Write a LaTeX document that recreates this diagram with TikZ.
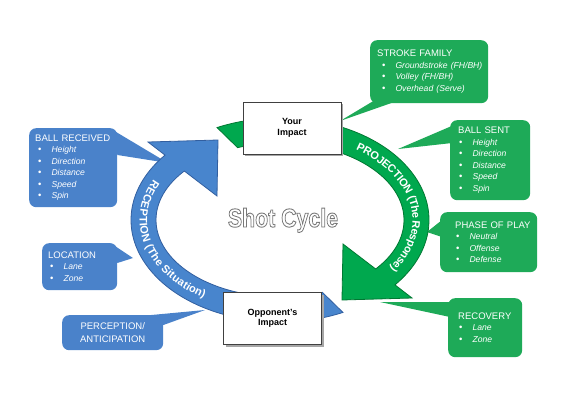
\documentclass[tikz,border=0pt]{standalone}
\usepackage{fontspec}
\setmainfont{Liberation Sans}
\usepackage{graphicx}
\usetikzlibrary{calc,decorations.text,shadows}
\definecolor{arcblue}{RGB}{72,133,205}
\definecolor{arcblueline}{RGB}{50,95,160}
\definecolor{arcgreen}{RGB}{0,168,78}
\definecolor{arcgreenline}{RGB}{0,120,50}
\definecolor{calblue}{RGB}{74,130,202}
\definecolor{calgreen}{RGB}{30,170,88}
\newcommand{\calitem}[2][1pt]{\hspace*{#1}\mbox{\textbullet\hspace{10pt}\itshape\fontsize{8.6}{11.5}\selectfont #2}}
% outlined letters: grey stroke, white fill
\newcommand{\outlined}[1]{\special{pdf:literal direct 2 Tr 0.9 w 0.47 G}#1\special{pdf:literal direct 0 Tr}}

\begin{document}
\begin{tikzpicture}[x=1pt,y=1pt,
    callout/.style={rounded corners=7pt,anchor=north west,text=white,align=left,
                    font=\fontsize{9.5}{11.5}\selectfont,inner ysep=4pt},
    bluecall/.style={callout,fill=calblue},
    greencall/.style={callout,fill=calgreen},
    impact/.style={rectangle,draw=black!75,fill=white,minimum width=98pt,minimum height=52pt,
                   align=center,font=\bfseries\fontsize{9}{10.5}\selectfont,
                   drop shadow={shadow xshift=2pt,shadow yshift=-2pt,fill=black!35,opacity=1}},
    bluearc/.style={fill=arcblue,draw=arcblueline,line width=0.8pt},
    greenarc/.style={fill=arcgreen,draw=arcgreenline,line width=0.8pt},
    arctext/.style={decorate,decoration={text along path,text align=center,
                    text color=white,raise=-3.9pt}},
    shottext/.style={font=\bfseries\fontsize{26}{26}\selectfont,anchor=base}
]
\useasboundingbox (0,0) rectangle (570,408);
\coordinate (C) at (280,188);

% callouts, left side
\node[bluecall,inner xsep=6pt,text width=76pt,minimum height=79pt] (received) at (29,280)
    {\mbox{BALL RECEIVED}\\ \calitem[3pt]{Height}\\ \calitem[3pt]{Direction}\\
     \calitem[3pt]{Distance}\\ \calitem[3pt]{Speed}\\ \calitem[3pt]{Spin}};
\node[bluecall,inner xsep=6pt,text width=63pt,minimum height=47pt] (location) at (42,165)
    {LOCATION\\ \calitem[2pt]{Lane}\\ \calitem[2pt]{Zone}};
\node[bluecall,inner xsep=6pt,text width=89pt,minimum height=35pt,align=center,
      font=\fontsize{9.5}{13}\selectfont] (perception) at (62,93) {PERCEPTION/\\ANTICIPATION};
\coordinate (receivedtip) at (168,245);
\coordinate (locationtip) at (133,150);
\coordinate (perceptiontip) at (205,98);
\fill[calblue] ([xshift=-8pt]received.north east) -- (receivedtip)
    -- ([yshift=-27pt]received.north east) -- cycle;
\fill[calblue] ([xshift=-7pt]location.north east) -- (locationtip)
    -- ([yshift=-20pt]location.north east) -- cycle;
\fill[calblue] ([xshift=-12pt]perception.north east) -- (perceptiontip)
    -- ([yshift=-10pt]perception.north east) -- cycle;

% callouts, right side
\node[greencall,inner xsep=7pt,text width=104pt,minimum height=63pt] (stroke) at (370,368)
    {STROKE FAMILY\\ \calitem[5pt]{Groundstroke (FH/BH)}\\ \calitem[5pt]{Volley (FH/BH)}\\
     \calitem[5pt]{Overhead (Serve)}};
\node[greencall,inner xsep=8pt,text width=64pt,minimum height=80pt] (sent) at (450,288)
    {BALL SENT\\ \calitem{Height}\\ \calitem{Direction}\\ \calitem{Distance}\\
     \calitem{Speed}\\ \calitem{Spin}};
\node[greencall,inner xsep=15pt,text width=67pt,minimum height=60pt] (phase) at (440,196)
    {\mbox{PHASE OF PLAY}\\ \calitem{Neutral}\\ \calitem{Offense}\\ \calitem{Defense}};
\node[greencall,inner xsep=10pt,text width=54pt,minimum height=59pt] (recovery) at (448,110)
    {\mbox{RECOVERY}\\ \calitem{Lane}\\ \calitem{Zone}};
\coordinate (stroketip) at (340,287);
\coordinate (senttip) at (398,259);
\coordinate (phasetip) at (427,176);
\coordinate (recoverytip) at (380,106);
\fill[calgreen] ([shift={(6pt,4pt)}]stroke.south west) -- (stroketip)
    -- ([shift={(26pt,2pt)}]stroke.south west) -- cycle;
\fill[calgreen] ([shift={(4pt,-5pt)}]sent.north west) -- (senttip)
    -- ([shift={(2pt,-23pt)}]sent.north west) -- cycle;
\fill[calgreen] ([shift={(2pt,-8pt)}]phase.north west) -- (phasetip)
    -- ([shift={(2pt,-25pt)}]phase.north west) -- cycle;
\fill[calgreen] ([shift={(4pt,-4pt)}]recovery.north west) -- (recoverytip)
    -- ([shift={(2pt,-19pt)}]recovery.north west) -- cycle;

% the two curved arrows
\begin{scope}[shift={(C)}]
  \filldraw[bluearc] (295:149 and 102) arc[start angle=295,end angle=140.5,x radius=149,y radius=102]
    -- (-132,78) -- (-62,80) -- (-63,24)
    -- (140.5:124 and 77) arc[start angle=140.5,end angle=290,x radius=124,y radius=77] -- cycle;
\end{scope}
\begin{scope}[shift={(C)},rotate=180]
  \filldraw[greenarc] (295:149 and 102) arc[start angle=295,end angle=140.5,x radius=149,y radius=102]
    -- (-132,78) -- (-62,80) -- (-63,24)
    -- (140.5:124 and 77) arc[start angle=140.5,end angle=290,x radius=124,y radius=77] -- cycle;
\end{scope}
\begin{scope}[shift={(C)}]
  \path[arctext,decoration={text={|\bfseries\fontsize{11}{11}\selectfont|RECEPTION (The Situation)}}]
    (148:136.5 and 89.5) arc[start angle=148,end angle=242,x radius=136.5,y radius=89.5];
  \path[arctext,decoration={text={|\bfseries\fontsize{11}{11}\selectfont|PROJECTION (The Response)}}]
    (62:136.5 and 89.5) arc[start angle=62,end angle=-42,x radius=136.5,y radius=89.5];
\end{scope}

% impacts
\node[impact] (your) at (292,280) {Your\\Impact};
\node[impact] (opponent) at (272.5,89.5) {Opponent's\\Impact};

% title
\node[shottext,text=white] (shot) at (283,181) {\outlined{\scalebox{0.82}[1]{Shot Cycle}}};
\end{tikzpicture}
\end{document}
